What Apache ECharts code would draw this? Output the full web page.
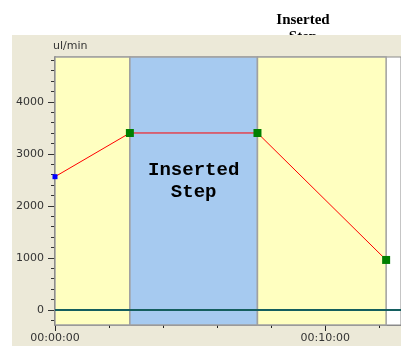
<!DOCTYPE html>
<html>
<head>
<meta charset="utf-8">
<script src="https://cdn.jsdelivr.net/npm/echarts@6/dist/echarts.min.js"></script>
<style>html,body{margin:0;padding:0;background:#fff}#c{width:401px;height:346px}</style>
</head>
<body>
<div id="c"></div>
<script>
// Data
var timeMin = [0, 2.77, 7.49, 12.25];            // minutes
var flow = [2560, 3400, 3400, 960];               // ul/min
var regionStart = [0, 2.77, 7.49];
var regionEnd = [2.77, 7.49, 12.25];
var regionLabel = ['', 'Inserted\nStep', ''];
var yMajorTicks = [0, 1000, 2000, 3000, 4000];
var yMinorTicks = [-200, 200, 400, 600, 800, 1200, 1400, 1600, 1800, 2200, 2400, 2600, 2800, 3200, 3400, 3600, 3800, 4200, 4400, 4600, 4800];
var xMajorStep = 10;   // minutes between labelled ticks
var xMinorStep = 2;    // minutes between small ticks
var titleText = 'Inserted\nStep';
var yUnit = 'ul/min';

var regionColors = ['#FFFFC0', '#A6CAF0', '#FFFFC0'];
var XMIN = 0, XMAX = 12.80, YMIN = -290, YMAX = 4860;

function fmtTime(m) {
  var s = Math.round(m * 60);
  var h = Math.floor(s / 3600), mm = Math.floor((s % 3600) / 60), ss = s % 60;
  function p(n) { return (n < 10 ? '0' : '') + n; }
  return p(h) + ':' + p(mm) + ':' + p(ss);
}

var areaData = regionStart.map(function (s, i) {
  var item = { xAxis: s, itemStyle: { color: regionColors[i], borderColor: '#a0a0a0', borderWidth: 1.5 } };
  if (regionLabel[i]) {
    item.label = {
      show: true, position: 'insideTop', distance: 103,
      formatter: regionLabel[i],
      fontFamily: '"Liberation Mono", "Courier New", monospace',
      fontWeight: 'bold', fontSize: 19, lineHeight: 22, color: '#000'
    };
  } else {
    item.label = { show: false };
  }
  return [item, { xAxis: regionEnd[i] }];
});

var pointData = timeMin.map(function (t, i) {
  if (i === 0) {
    return { value: [t, flow[i]], symbol: 'rect', symbolSize: 5, itemStyle: { color: '#0000ff' } };
  }
  return { value: [t, flow[i]], symbol: 'rect', symbolSize: 8, itemStyle: { color: '#008000' } };
});

var labelFont = { fontFamily: '"DejaVu Sans", sans-serif', fontSize: 11, color: '#333' };

var chart = echarts.init(document.getElementById('c'));
chart.setOption({
  animation: false,
  backgroundColor: '#ECE9D8',
  graphic: [
    { type: 'rect', shape: { x: 0, y: 0, width: 401, height: 35 }, style: { fill: '#ffffff' } },
    { type: 'rect', shape: { x: 0, y: 35, width: 12, height: 311 }, style: { fill: '#ffffff' } },
    { type: 'text', style: { text: titleText, x: 303, y: 12, textAlign: 'center', textVerticalAlign: 'top',
      font: 'bold 15px "Liberation Serif", serif', lineHeight: 17, fill: '#000' } },
    { type: 'rect', shape: { x: 262, y: 35, width: 84, height: 12 }, style: { fill: '#ECE9D8' } }
  ],
  grid: { left: 55, right: -1, top: 57, bottom: 21, show: true, backgroundColor: '#ffffff', borderColor: '#8a8a8a', borderWidth: 1 },
  xAxis: [
    { type: 'value', min: XMIN, max: XMAX, interval: xMajorStep, position: 'bottom',
      axisLine: { show: true, onZero: false, lineStyle: { color: '#8a8a8a', width: 1 } }, splitLine: { show: false },
      axisTick: { show: true, length: 6, lineStyle: { color: '#222', width: 1 } },
      axisLabel: Object.assign({ show: true, showMinLabel: true, showMaxLabel: false, margin: 8, formatter: function (v) { return fmtTime(v); } }, labelFont) },
    { type: 'value', min: XMIN, max: XMAX, interval: xMinorStep, position: 'bottom',
      axisLine: { show: false, onZero: false }, splitLine: { show: false },
      axisTick: { show: true, length: 3, lineStyle: { color: '#222', width: 1 } },
      axisLabel: { show: false } }
  ],
  yAxis: [
    { type: 'value', min: YMIN, max: YMAX, position: 'left',
      name: yUnit, nameLocation: 'end', nameGap: 5,
      nameTextStyle: { align: 'left', fontFamily: '"DejaVu Sans", sans-serif', fontSize: 11, color: '#333', padding: [0, 0, 0, -2] },
      axisLine: { show: true, onZero: false, lineStyle: { color: '#333', width: 1.5 } }, splitLine: { show: false },
      axisTick: { show: true, customValues: yMajorTicks, length: 7, lineStyle: { color: '#333' } },
      axisLabel: Object.assign({ show: true, customValues: yMajorTicks, margin: 11, formatter: function (v) { return String(v); } }, labelFont) },
    { type: 'value', min: YMIN, max: YMAX, position: 'left',
      axisLine: { show: false, onZero: false }, splitLine: { show: false },
      axisTick: { show: true, customValues: yMinorTicks, length: 4, lineStyle: { color: '#333' } },
      axisLabel: { show: false } }
  ],
  series: [{
    type: 'line', xAxisIndex: 0, yAxisIndex: 0,
    data: pointData,
    lineStyle: { color: '#ff0000', width: 1 },
    z: 5,
    markArea: { silent: true, data: areaData },
    markLine: { silent: true, symbol: 'none', label: { show: false },
      lineStyle: { color: '#145e5e', width: 2, type: 'solid' },
      data: [{ yAxis: 0 }] }
  }]
});
</script>
</body>
</html>
